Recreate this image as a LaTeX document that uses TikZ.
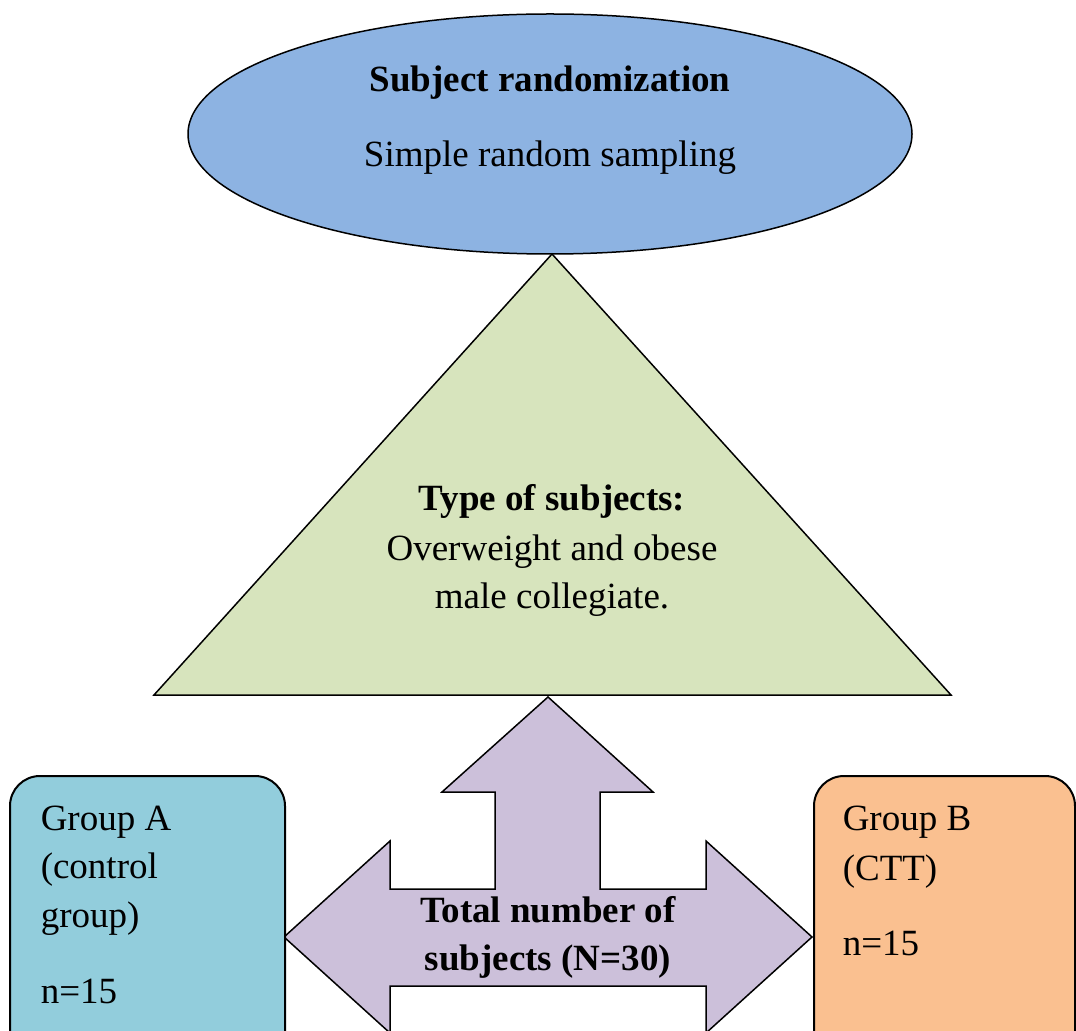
\documentclass[tikz,border=0pt]{standalone}
\usepackage{fontspec}
\setmainfont{Liberation Serif}
\usetikzlibrary{shapes.geometric}

\definecolor{ellblue}{RGB}{141,179,226}
\definecolor{trigreen}{RGB}{215,228,189}
\definecolor{arrpurple}{RGB}{204,192,218}
\definecolor{grpcyan}{RGB}{146,205,220}
\definecolor{grporange}{RGB}{250,192,144}

\begin{document}
\begin{tikzpicture}[x=0.5pt,y=-0.5pt,line width=0.75pt,
  txt/.style={font=\fontsize{18.5}{24}\selectfont,inner sep=0pt},
  grp/.style={draw,line width=1pt,rounded corners=15pt,minimum height=170pt,anchor=north west}]
  \useasboundingbox (0,0) rectangle (1076,1031);
  \clip (0,0) rectangle (1076,1031);
  \def\ax{548}   % arrow centre line
  % top ellipse
  \node[ellipse,draw,fill=ellblue,minimum width=362pt,minimum height=120pt] (rand) at (550,134) {};
  \node[txt,anchor=base,font=\fontsize{18.5}{24}\selectfont\bfseries] (randhead) at (550,92) {Subject randomization};
  \node[txt,anchor=base] (randsub) at (550,167) {Simple random sampling};
  % triangle
  \draw[fill=trigreen] (552,254) -- (951,695) -- (154,695) -- cycle;
  \node[txt,anchor=base,font=\fontsize{18.5}{24}\selectfont\bfseries] (typehead) at (552,511) {Type of subjects:};
  \node[txt,anchor=base] (type1) at (552,560) {Overweight and obese};
  \node[txt,anchor=base] (type2) at (552,609) {male collegiate.};
  % three way arrow
  \draw[fill=arrpurple] (\ax,697) -- (\ax+105,792) -- (\ax+52,792) -- (\ax+52,889)
    -- (\ax+158,889) -- (\ax+158,841) -- (\ax+264,937) -- (\ax+158,1033) -- (\ax+158,986)
    -- (\ax-158,986) -- (\ax-158,1033) -- (\ax-264,937) -- (\ax-158,841) -- (\ax-158,889)
    -- (\ax-53,889) -- (\ax-53,792) -- (\ax-106,792) -- cycle;
  \node[txt,anchor=base,font=\fontsize{18.5}{24}\selectfont\bfseries] (total1) at (\ax,922) {Total number of};
  \node[txt,anchor=base,font=\fontsize{18.5}{24}\selectfont\bfseries] (total2) at (\ax,970) {subjects (N=30)};
  % groups
  \node[grp,fill=grpcyan,minimum width=137.5pt] (grpA) at (9,775) {};
  \node[grp,fill=grporange,minimum width=130.5pt] (grpB) at (813,775) {};
  \foreach \lbl/\y [count=\i] in {Group A/830,{(control}/878,{group)}/927,n=15/1003}
    { \node[txt,anchor=base west] (grpA\i) at (40,\y) {\lbl}; }
  \foreach \lbl/\y [count=\i] in {Group B/830,{(CTT)}/880,n=15/955}
    { \node[txt,anchor=base west] (grpB\i) at (842,\y) {\lbl}; }
\end{tikzpicture}
\end{document}
